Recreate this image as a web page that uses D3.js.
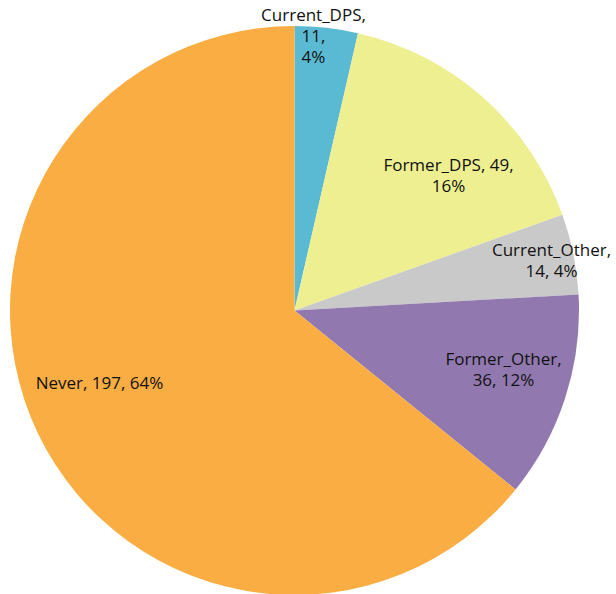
<!DOCTYPE html>
<html>
<head>
<meta charset="utf-8">
<script src="https://cdn.jsdelivr.net/npm/d3@7"></script>
<style>
  html, body { margin: 0; padding: 0; background: #fff; }
  svg { display: block; }
  text { font-family: "Open Sans", Lato, sans-serif; font-size: 17px; fill: #111; }
</style>
</head>
<body>
<svg id="chart" width="616" height="594"></svg>
<script>
const categories = ["Current_DPS", "Former_DPS", "Current_Other", "Former_Other", "Never"];
const values = [11, 49, 14, 36, 197];
const percents = ["4%", "16%", "4%", "12%", "64%"];
const colors = ["#5BBAD3", "#EDEF91", "#C9C9C9", "#9179B0", "#F9AD43"];
// label line groupings (how the label text wraps)
const labelLines = [
  d => [d.name + ",", d.value + ",", d.pct],
  d => [d.name + ", " + d.value + ",", d.pct],
  d => [d.name + ",", d.value + ", " + d.pct],
  d => [d.name + ",", d.value + ", " + d.pct],
  d => [d.name + ", " + d.value + ", " + d.pct]
];
// label anchor positions (offset from pie centre, px)
const labelPos = [[19, -274], [154, -135], [257, -50], [209, 59], [-195, 73]];

const W = 616, H = 594;
const cx = 294.5, cy = 310.5, R = 284.5;
const lineH = 21;

const svg = d3.select("#chart");
const g = svg.append("g").attr("transform", `translate(${cx},${cy})`);

const data = categories.map((c, i) => ({ name: c, value: values[i], pct: percents[i], i }));
const pie = d3.pie().value(d => d.value).sort(null);
const arc = d3.arc().innerRadius(0).outerRadius(R);
const arcs = pie(data);

g.selectAll("path.slice")
  .data(arcs)
  .join("path")
  .attr("class", "slice")
  .attr("d", arc)
  .attr("fill", d => colors[d.data.i]);

const labels = g.selectAll("text.lbl")
  .data(arcs)
  .join("text")
  .attr("class", "lbl")
  .attr("text-anchor", "middle")
  .attr("transform", d => `translate(${labelPos[d.data.i][0]},${labelPos[d.data.i][1]})`);

labels.each(function(d) {
  const lines = labelLines[d.data.i](d.data);
  const t = d3.select(this);
  const n = lines.length;
  lines.forEach((ln, k) => {
    t.append("tspan")
      .attr("x", 0)
      .attr("y", (k - (n - 1) / 2) * lineH)
      .attr("dy", "0.35em")
      .text(ln);
  });
});
</script>
</body>
</html>
